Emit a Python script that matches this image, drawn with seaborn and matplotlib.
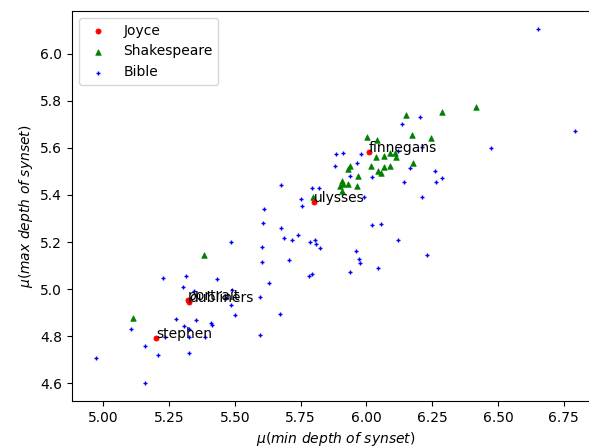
import pandas as pd
import seaborn as sns
import matplotlib.pyplot as plt
import numpy as np

# Joyce works (annotated)
joyce_titles = ['stephen', 'portrait', 'dubliners', 'ulysses', 'finnegans']
joyce_x = [5.202, 5.321, 5.325, 5.801, 6.010]
joyce_y = [4.793, 4.955, 4.946, 5.372, 5.582]

# Shakespeare plays
shakes_x = [5.384, 5.113, 5.797, 6.149, 6.288, 6.417, 6.003, 6.041, 6.174, 6.244,
            6.088, 6.107, 6.114, 6.036, 6.065, 6.177, 5.936, 5.929, 6.016, 6.066,
            6.089, 6.044, 6.057, 5.967, 5.906, 5.912, 5.931, 5.900, 5.964, 5.906]
shakes_y = [5.146, 4.879, 5.393, 5.738, 5.752, 5.774, 5.648, 5.632, 5.653, 5.640,
            5.578, 5.577, 5.560, 5.560, 5.564, 5.536, 5.524, 5.511, 5.523, 5.519,
            5.523, 5.503, 5.492, 5.482, 5.459, 5.446, 5.447, 5.438, 5.437, 5.415]

# Bible books
bible_x = [5.487, 5.603, 5.603, 5.227, 5.316, 5.434, 5.629, 5.303, 5.344, 5.489,
           5.468, 5.594, 5.487, 5.502, 5.275, 5.352, 5.409, 5.415, 5.308, 5.326,
           5.106, 5.236, 5.326, 5.385, 5.594, 5.159, 5.207, 5.327, 4.972, 5.159,
           6.202, 6.134, 5.886, 5.912, 5.980, 5.965, 5.882, 6.167, 6.259, 6.288,
           6.266, 6.141, 6.020, 5.936, 5.674, 5.795, 5.818, 5.753, 5.754, 5.990,
           6.211, 6.120, 6.211, 6.651, 6.793, 6.473, 5.677, 5.688, 5.717, 5.741,
           5.785, 5.806, 5.810, 5.822, 5.705, 6.020, 6.057, 6.121, 5.959, 5.970,
           5.975, 6.231, 6.045, 5.939, 5.782, 5.793, 5.670, 5.610, 5.606]
bible_y = [5.200, 5.178, 5.115, 5.049, 5.054, 5.045, 5.026, 5.009, 4.991, 4.995,
           4.964, 4.967, 4.932, 4.888, 4.873, 4.869, 4.858, 4.847, 4.843, 4.829,
           4.829, 4.797, 4.795, 4.797, 4.806, 4.758, 4.721, 4.727, 4.708, 4.600,
           5.730, 5.702, 5.573, 5.577, 5.572, 5.537, 5.523, 5.515, 5.502, 5.474,
           5.457, 5.457, 5.478, 5.482, 5.443, 5.428, 5.428, 5.382, 5.352, 5.393,
           5.390, 5.586, 5.603, 6.106, 5.671, 5.601, 5.261, 5.219, 5.210, 5.228,
           5.200, 5.210, 5.191, 5.175, 5.125, 5.273, 5.278, 5.210, 5.160, 5.129,
           5.111, 5.143, 5.088, 5.071, 5.057, 5.066, 4.896, 5.342, 5.282]

fig = plt.figure(figsize=(5.89, 4.48), dpi=100)
ax = fig.add_axes([0.1222, 0.1049, 0.8948, 0.8705])

sns.scatterplot(x=joyce_x, y=joyce_y, color='red', marker='o', s=14,
                edgecolor='red', linewidth=0.5, label='Joyce', ax=ax, zorder=3)
sns.scatterplot(x=shakes_x, y=shakes_y, color='green', marker='^', s=16,
                edgecolor='green', linewidth=0.5, label='Shakespeare', ax=ax, zorder=2)
sns.scatterplot(x=bible_x, y=bible_y, color='blue', marker='+', s=12,
                linewidth=1.0, label='Bible', ax=ax, zorder=1)

# titles written at the point, left/baseline aligned
for t, x, y in zip(joyce_titles, joyce_x, joyce_y):
    ax.text(x, y, t, fontsize=10, color='black')

ax.set_xlabel(r'$\mu(min\ depth\ of\ synset)$')
ax.set_ylabel(r'$\mu(max\ depth\ of\ synset)$')
ax.legend(loc='upper left')

plt.savefig('out.png', dpi=100)
